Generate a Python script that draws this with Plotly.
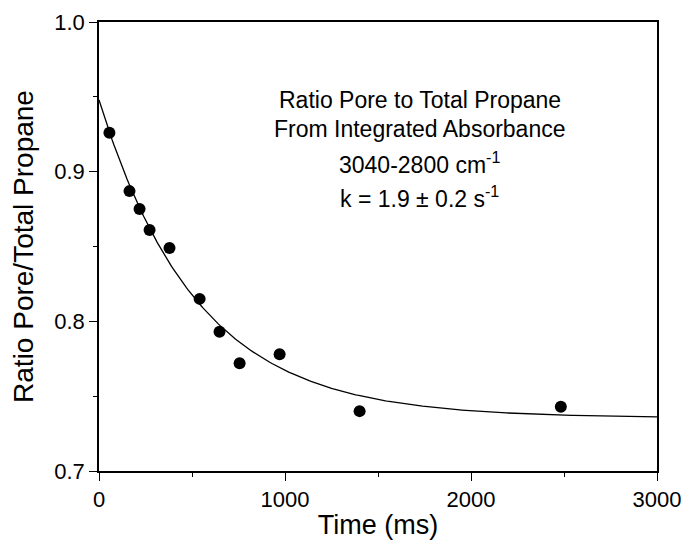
import numpy as np
import plotly.graph_objects as go

# Measured data points
time_ms = [56, 164, 218, 272, 379, 541, 648, 756, 971, 1401, 2483]
ratio = [0.926, 0.887, 0.875, 0.861, 0.849, 0.815, 0.793, 0.772, 0.778, 0.740, 0.743]

# Exponential fit parameters (y = y_inf + amp * exp(-k t))
fit_y_inf = 0.7355
fit_amp = 0.2125
fit_k_per_s = 1.9

x_ticks = [0, 1000, 2000, 3000]
y_ticks = [0.7, 0.8, 0.9, 1.0]
y_tick_labels = ["0.7", "0.8", "0.9", "1.0"]

annot_lines = [
    "Ratio Pore to Total Propane",
    "From Integrated Absorbance",
    "3040-2800 cm<sup>-1</sup>",
    "k = 1.9 ± 0.2 s<sup>-1</sup>",
]
annot_y = [0.9480, 0.9286, 0.9058, 0.8832]
annot_x = 1725

t_fit = np.linspace(0, 3000, 301)
y_fit = fit_y_inf + fit_amp * np.exp(-fit_k_per_s * t_fit / 1000.0)

FONT = "Liberation Sans, Arial, sans-serif"

fig = go.Figure()
fig.add_trace(go.Scatter(x=t_fit, y=y_fit, mode="lines",
                         line=dict(color="black", width=1.3),
                         showlegend=False, hoverinfo="skip"))
fig.add_trace(go.Scatter(x=time_ms, y=ratio, mode="markers",
                         marker=dict(color="black", size=12, symbol="circle"),
                         showlegend=False))

for txt, yy in zip(annot_lines, annot_y):
    fig.add_annotation(x=annot_x, y=yy, xref="x", yref="y", text=txt,
                       showarrow=False, xanchor="center", yanchor="middle",
                       font=dict(family=FONT, size=23, color="black"))

axis_common = dict(
    showgrid=False, zeroline=False,
    showline=True, linecolor="black", linewidth=1.5, mirror=True,
    ticks="outside", ticklen=8, tickwidth=1.3, tickcolor="black",
    tickfont=dict(family=FONT, size=22, color="black"),
    ticklabeloverflow="allow",
)

fig.update_xaxes(range=[0, 3000], tickvals=x_ticks,
                 minor=dict(ticks="outside", ticklen=4, tickwidth=1.3,
                            tickcolor="black", dtick=500, tick0=0, showgrid=False),
                 title=dict(text="Time (ms)", font=dict(family=FONT, size=27, color="black"),
                            standoff=4),
                 **axis_common)
fig.update_yaxes(range=[0.7, 1.0], tickvals=y_ticks, ticktext=y_tick_labels,
                 minor=dict(ticks="outside", ticklen=4, tickwidth=1.3,
                            tickcolor="black", dtick=0.05, tick0=0.7, showgrid=False),
                 title=dict(text="Ratio Pore/Total Propane",
                            font=dict(family=FONT, size=28, color="black"),
                            standoff=12),
                 **axis_common)

fig.update_layout(width=686, height=544,
                  margin=dict(l=99, r=29, t=22, b=73, autoexpand=False),
                  plot_bgcolor="white", paper_bgcolor="white")

# remove the default page margin so the figure fills the 686x544 window exactly
fig.write_html("out.html",
               config={"displayModeBar": False},
               post_script="document.body.style.margin='0';"
                           "document.body.style.overflow='hidden';")
